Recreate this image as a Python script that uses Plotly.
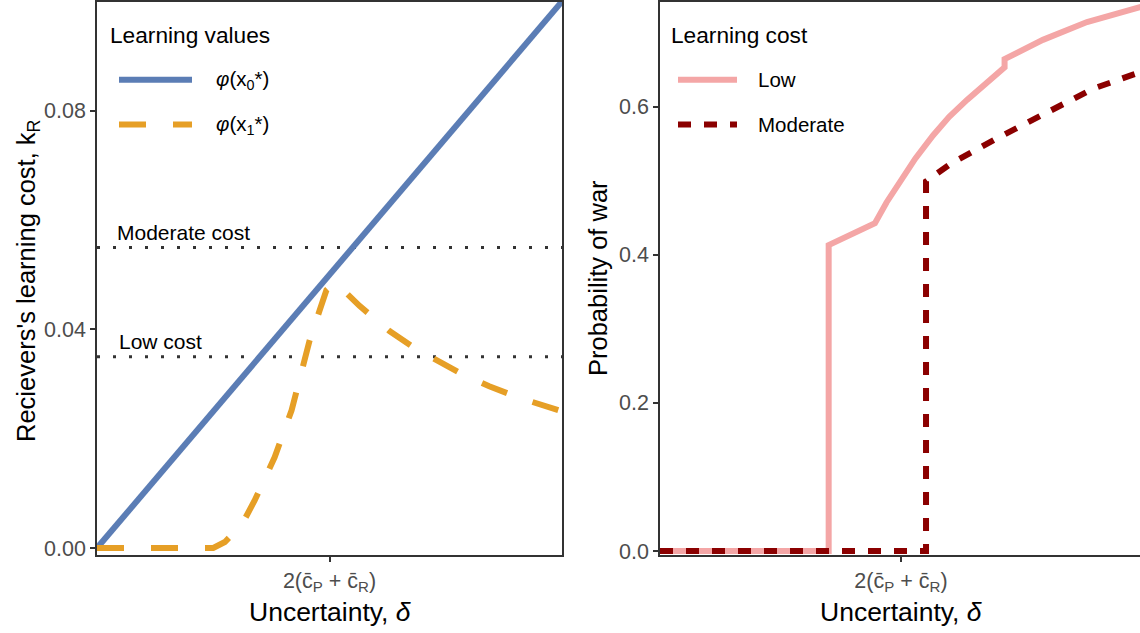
import plotly.graph_objects as go

# ---------------- data ----------------
# Left panel: learning values (x in units of 2(c_P + c_R))
x0_x = [0.0, 2.0]
x0_y = [0.0, 0.1]

x1_x = [0.0, 0.50, 0.55, 0.622, 0.678, 0.764, 0.837, 0.884, 0.914, 0.957, 0.987,
        1.02, 1.05, 1.129, 1.258, 1.373, 1.472, 1.571, 1.687, 1.815, 2.0]
x1_y = [0.0, 0.0, 0.0011, 0.0042, 0.0087, 0.0166, 0.0252, 0.0330, 0.0379, 0.0434, 0.0472,
        0.0485, 0.0476, 0.0443, 0.0397, 0.0364, 0.0340, 0.0318, 0.0296, 0.0275, 0.0250]

cost_levels = [0.035, 0.055]
cost_labels = ["Low cost", "Moderate cost"]
cost_label_x = [0.087, 0.077]
cost_label_y = [0.0377, 0.0578]

# Right panel: probability of war
low_x = [0.0, 0.70, 0.70, 0.892, 0.94, 0.996, 1.06, 1.133, 1.20, 1.274, 1.357, 1.43, 1.43,
         1.589, 1.772, 2.0]
low_y = [0.0, 0.0, 0.413, 0.4425, 0.4705, 0.499, 0.530, 0.561, 0.586, 0.609, 0.633, 0.653, 0.664,
         0.690, 0.714, 0.735]

mod_x = [0.0, 1.104, 1.104, 1.203, 1.398, 1.606, 1.797, 1.963, 2.0]
mod_y = [0.0, 0.0, 0.499, 0.522, 0.557, 0.593, 0.624, 0.643, 0.647]

left_yticks = [0.0, 0.04, 0.08]
left_yticklabels = ["0.00", "0.04", "0.08"]
right_yticks = [0.0, 0.2, 0.4, 0.6]
right_yticklabels = ["0.0", "0.2", "0.4", "0.6"]
xtick_vals = [1]
xtick_text = ["2(c\u0304<sub>P</sub> + c\u0304<sub>R</sub>)"]

legend1_title = "Learning values"
legend1_labels = ["<i>\u03c6</i>(x<sub>0</sub>*)", "<i>\u03c6</i>(x<sub>1</sub>*)"]
legend2_title = "Learning cost"
legend2_labels = ["Low", "Moderate"]

# ---------------- style ----------------
FONT = "Liberation Sans, Arial, sans-serif"
BLUE = "#5B7DB5"
ORANGE = "#E69F26"
PINK = "#F4A6A6"
DARKRED = "#8B0000"
FRAME = "#333333"
TICKC = "#4D4D4D"
W, H = 1140, 633
PB = 555  # plot area bottom (pixels)

fig = go.Figure()

# reference cost lines
for lv in cost_levels:
    fig.add_trace(go.Scatter(x=[0, 2], y=[lv, lv], mode="lines",
                             line=dict(color="#333333", width=3, dash="3px,13px"),
                             xaxis="x", yaxis="y", showlegend=False, hoverinfo="skip"))

fig.add_trace(go.Scatter(x=x0_x, y=x0_y, mode="lines",
                         line=dict(color=BLUE, width=6), xaxis="x", yaxis="y",
                         showlegend=False))
fig.add_trace(go.Scatter(x=x1_x, y=x1_y, mode="lines",
                         line=dict(color=ORANGE, width=6, dash="27px,27px"),
                         xaxis="x", yaxis="y", showlegend=False))

fig.add_trace(go.Scatter(x=low_x, y=low_y, mode="lines",
                         line=dict(color=PINK, width=6), xaxis="x2", yaxis="y2",
                         showlegend=False))
fig.add_trace(go.Scatter(x=mod_x, y=mod_y, mode="lines",
                         line=dict(color=DARKRED, width=6, dash="13px,13px"),
                         xaxis="x2", yaxis="y2", showlegend=False))

axis_common = dict(showgrid=False, zeroline=False, showline=True, linecolor=FRAME,
                   linewidth=1.5, ticks="outside", ticklen=5,
                   tickcolor=FRAME, tickwidth=1.5,
                   tickfont=dict(family=FONT, size=21.5, color=TICKC))

fig.update_layout(
    width=W, height=H,
    margin=dict(l=0, r=0, t=0, b=H - PB),
    paper_bgcolor="white", plot_bgcolor="white",
    showlegend=False,
    xaxis=dict(domain=[97 / W, 562 / W], range=[0, 2], tickvals=xtick_vals,
               ticktext=xtick_text, anchor="y", mirror=True, **axis_common),
    yaxis=dict(domain=[0, 1], range=[-0.00128, 0.0999], tickvals=left_yticks,
               ticktext=left_yticklabels, anchor="x", mirror=True, **axis_common),
    xaxis2=dict(domain=[660 / W, 1.0], range=[0, 1.992], tickvals=xtick_vals,
                ticktext=xtick_text, anchor="y2", mirror=True, **axis_common),
    yaxis2=dict(domain=[0, 1], range=[-0.0054, 0.7411], tickvals=right_yticks,
                ticktext=right_yticklabels, anchor="x2", mirror=False, **axis_common),
)

def px(xp):
    return xp / W

def py(yp):
    return 1 - yp / PB

ann = []
# axis titles
for cx in (330, 901):
    ann.append(dict(text="Uncertainty, <i>\u03b4</i>", x=px(cx), y=py(612), xref="paper", yref="paper",
                    showarrow=False, font=dict(family=FONT, size=26.5, color="black"),
                    xanchor="center", yanchor="middle"))
ann.append(dict(text="Recievers's learning cost, k<sub>R</sub>", x=px(28), y=py(280),
                xref="paper", yref="paper", showarrow=False, textangle=-90,
                font=dict(family=FONT, size=25.5, color="black"),
                xanchor="center", yanchor="middle"))
ann.append(dict(text="Probability of war", x=px(598), y=py(277),
                xref="paper", yref="paper", showarrow=False, textangle=-90,
                font=dict(family=FONT, size=25.5, color="black"),
                xanchor="center", yanchor="middle"))
# cost labels
for t, lx, ly in zip(cost_labels, cost_label_x, cost_label_y):
    ann.append(dict(text=t, x=lx, y=ly, xref="x", yref="y", showarrow=False,
                    font=dict(family=FONT, size=21, color="black"),
                    xanchor="left", yanchor="middle"))

# manual legends
shapes = []
def legend(title, labels, colors, dashes, tx, kx0, kx1, lx):
    ann.append(dict(text=title, x=px(tx), y=py(33), xref="paper", yref="paper",
                    showarrow=False, font=dict(family=FONT, size=22.7, color="black"),
                    xanchor="left", yanchor="middle"))
    for i, (lab, c, d) in enumerate(zip(labels, colors, dashes)):
        yy = 78 + 45 * i
        shapes.append(dict(type="line", xref="paper", yref="paper",
                           x0=px(kx0), x1=px(kx1), y0=py(yy), y1=py(yy),
                           line=dict(color=c, width=6, dash=d)))
        ann.append(dict(text=lab, x=px(lx), y=py(yy), xref="paper", yref="paper",
                        showarrow=False, font=dict(family=FONT, size=20.5, color="black"),
                        xanchor="left", yanchor="middle"))

legend(legend1_title, legend1_labels, [BLUE, ORANGE], ["solid", "27px,27px"], 108, 119, 192, 214)
legend(legend2_title, legend2_labels, [PINK, DARKRED], ["solid", "13px,13px"], 669, 678, 737, 756)

fig.update_layout(annotations=ann, shapes=shapes)

fig.write_html("out.html", config={"displayModeBar": False},
               post_script="document.body.style.margin='0px';document.body.style.padding='0px';")
